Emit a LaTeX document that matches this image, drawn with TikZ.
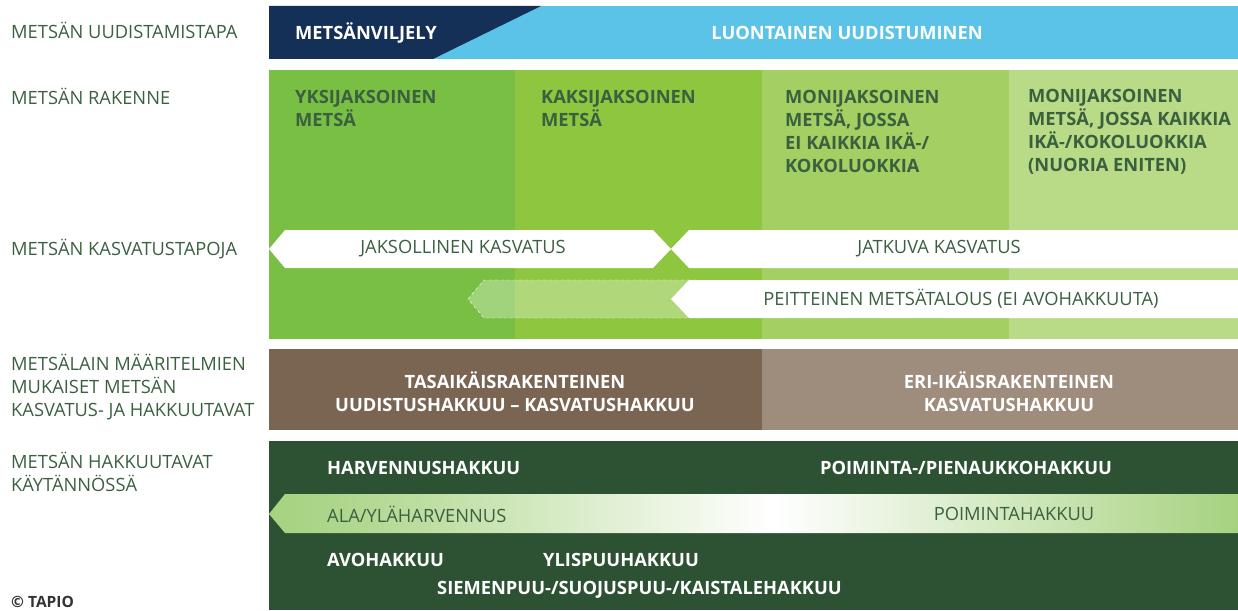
\documentclass[tikz,border=0pt]{standalone}
\usepackage{fontspec}
\setmainfont{Open Sans}
\usetikzlibrary{positioning}

\definecolor{navy}{HTML}{143057}
\definecolor{sky}{HTML}{5BC3E8}
\definecolor{gA}{HTML}{79BF44}
\definecolor{gB}{HTML}{8EC640}
\definecolor{gC}{HTML}{A3CF63}
\definecolor{gD}{HTML}{B9DB87}
\definecolor{brownA}{HTML}{7A6553}
\definecolor{brownB}{HTML}{9E8C7C}
\definecolor{forest}{HTML}{2D5233}
\definecolor{leaf}{HTML}{3B6040}
\definecolor{paleleaf}{HTML}{A6D280}
\pgfdeclarehorizontalshading{paleband}{100bp}{color(0bp)=(paleleaf); color(25bp)=(paleleaf); color(29bp)=(paleleaf!90!white); color(51bp)=(white); color(75bp)=(paleleaf); color(100bp)=(paleleaf)}

\begin{document}
\begin{tikzpicture}[x=1pt,y=-1pt,
		side/.style={anchor=west,inner sep=0pt,align=left,text=leaf,font=\fontsize{18.3}{23}\selectfont},
		head/.style={anchor=west,inner sep=0pt,align=left,text=leaf,font=\bfseries\fontsize{18.3}{23}\selectfont},
		band/.style={inner sep=0pt,text=leaf,font=\fontsize{18.3}{23}\selectfont},
		cut/.style={inner sep=0pt,align=center,text=white,font=\bfseries\fontsize{18.3}{23}\selectfont}]

		\useasboundingbox (0,0) rectangle (1238,610);

		% left column
		\node[side] 	(uud)	at (11,30)		{METSÄN UUDISTAMISTAPA};
		\node[side] 	(rak)	at (11,96)		{METSÄN RAKENNE};
		\node[side] 	(kas)	at (11,249)		{METSÄN KASVATUSTAPOJA};
		\node[side] 	(lak)	at (11,387)		{METSÄLAIN MÄÄRITELMIEN\\MUKAISET METSÄN\\KASVATUS- JA HAKKUUTAVAT};
		\node[side] 	(kay)	at (11,471.5)	{METSÄN HAKKUUTAVAT\\KÄYTÄNNÖSSÄ};
		\node[side,text=black!80,font=\bfseries\fontsize{15.5}{16}\selectfont] (tap) at (11,602) {© TAPIO};

		% uudistamistapa
		\fill[sky] (269,6) rectangle (1238,59);
		\fill[navy] (269,6) -- (541,6) -- (433,59) -- (269,59) -- cycle;
		\node[cut,anchor=west] 	(vil)	at (295,33)	{METSÄNVILJELY};
		\node[cut] 				(luo)	at (847,33)	{LUONTAINEN UUDISTUMINEN};

		% rakenne
		\fill[gA] (269,70) rectangle (515,339);
		\fill[gB] (515,70) rectangle (762,339);
		\fill[gC] (762,70) rectangle (1009,339);
		\fill[gD] (1009,70) rectangle (1238,339);
		\node[head] 	(r1)	at (295,108.5)	{YKSIJAKSOINEN\\METSÄ};
		\node[head] 	(r2)	at (541,108.5)	{KAKSIJAKSOINEN\\METSÄ};
		\node[head] 	(r3)	at (785,131.5)	{MONIJAKSOINEN\\METSÄ, JOSSA\\EI KAIKKIA IKÄ-/\\KOKOLUOKKIA};
		\node[head] 	(r4)	at (1028,131.5)	{MONIJAKSOINEN\\METSÄ, JOSSA KAIKKIA\\IKÄ-/KOKOLUOKKIA\\(NUORIA ENITEN)};

		% kasvatustavat
		\fill[white] (269,249) -- (285,230) -- (653,230) -- (671,249) -- (653,268) -- (285,268) -- cycle;
		\fill[white] (671,249) -- (689,230) -- (1238,230) -- (1238,268) -- (689,268) -- cycle;
		\fill[white] (671,299) -- (689,280) -- (1238,280) -- (1238,318) -- (689,318) -- cycle;
		\draw[white,dashed,fill=white,fill opacity=0.3] (468,299) -- (484,280) -- (700,280) -- (718,299) -- (700,318) -- (484,318) -- cycle;
		\node[band] 	(jak)	at (463,249)	{JAKSOLLINEN KASVATUS};
		\node[band] 	(jat)	at (939,249)	{JATKUVA KASVATUS};
		\node[band] 	(pei)	at (961,299)	{PEITTEINEN METSÄTALOUS (EI AVOHAKKUUTA)};

		% metsälaki
		\fill[brownA] (269,349) rectangle (762,430);
		\fill[brownB] (762,349) rectangle (1238,430);
		\node[cut] 	(tas)	at (515,391.5)	{TASAIKÄISRAKENTEINEN\\UUDISTUSHAKKUU – KASVATUSHAKKUU};
		\node[cut] 	(eri)	at (1009,391.5)	{ERI-IKÄISRAKENTEINEN\\KASVATUSHAKKUU};

		% hakkuutavat
		\fill[forest] (269,441) rectangle (1238,610);
		\shade[shading=paleband] (269,514) -- (285,494) -- (1238,494) -- (1238,533) -- (285,533) -- cycle;
		\node[cut,anchor=west] 	(har)	at (327,468)	{HARVENNUSHAKKUU};
		\node[cut] 				(poi)	at (966,468)	{POIMINTA-/PIENAUKKOHAKKUU};
		\node[band,anchor=west] (ala)	at (327,514)	{ALA/YLÄHARVENNUS};
		\node[band] 			(pmh)	at (1014,514)	{POIMINTAHAKKUU};
		\node[cut,anchor=west] 	(avo)	at (327,560)	{AVOHAKKUU};
		\node[cut,anchor=west] 	(yli)	at (543,560)	{YLISPUUHAKKUU};
		\node[cut,anchor=west] 	(sie)	at (437,590)	{SIEMENPUU-/SUOJUSPUU-/KAISTALEHAKKUU};
	\end{tikzpicture}
\end{document}
